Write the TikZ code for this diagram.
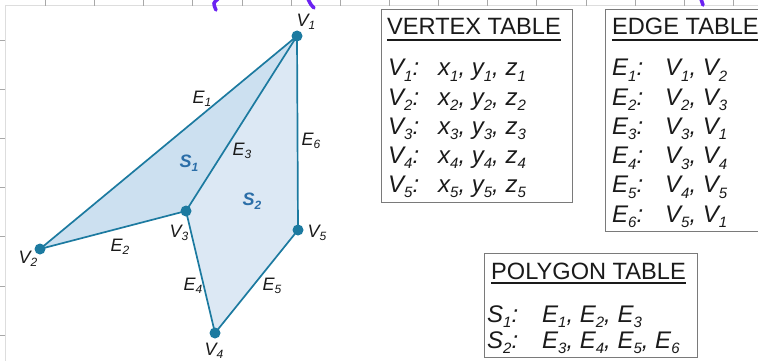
\documentclass[tikz,border=0pt]{standalone}
\usepackage{fontspec}
\setmainfont{Liberation Sans}
\definecolor{edgec}{HTML}{1C7AA0}
\definecolor{s1c}{HTML}{CCE0F0}
\definecolor{s2c}{HTML}{DCE8F4}
\definecolor{slabc}{HTML}{2B6EA8}
\definecolor{boxc}{HTML}{7A7A7A}
\definecolor{rulec}{HTML}{A8A8A8}
\definecolor{rulel}{HTML}{DDDDDD}
\definecolor{penc}{HTML}{6B22F2}
\definecolor{txt}{HTML}{1A1A1A}
\newcommand\tsub[1]{\raisebox{-5.5pt}{\fontsize{15}{15}\selectfont\itshape #1}}
\newcommand\dsub[1]{\raisebox{-3.5pt}{\fontsize{12}{12}\selectfont #1}}
\begin{document}
\begin{tikzpicture}[x=1pt,y=-1pt,
  vdot/.style={circle,fill=edgec,inner sep=0pt,minimum size=11pt},
  lab/.style={font=\fontsize{18}{18}\selectfont\itshape, text=txt, inner sep=0pt},
  slab/.style={font=\fontsize{18}{18}\selectfont\bfseries\itshape, text=slabc, inner sep=0pt},
  conn/.style={draw=edgec, line width=1.7pt, line join=round},
  tbox/.style={draw=boxc, line width=1pt},
  ttl/.style={font=\fontsize{23.6}{23.6}\selectfont, text=txt, anchor=base west, inner sep=0pt},
  uline/.style={draw=txt, line width=1.6pt},
  trow/.style={font=\fontsize{24}{24}\selectfont\itshape, text=txt, anchor=base west, inner sep=0pt},
  ruler/.style={draw=rulec, line width=0.8pt},
  pen/.style={draw=penc, line width=3.5pt, line cap=round}]
\clip (0,0) rectangle (758,361);
\fill[white] (0,0) rectangle (758,361);
% ruler
\draw[draw=rulel, line width=0.8pt] (5,5) -- (758,5);
\draw[draw=rulel, line width=0.8pt] (5,5) -- (5,361);
\foreach \x in {45,94,143,192,242,291,340,389,438,487,536,586,635,684,733}
  \draw[ruler] (\x,0) -- (\x,6);
\foreach \y in {40,89,138,187,236,286,335}
  \draw[ruler] (0,\y) -- (5,\y);
% pen marks
\draw[pen] (218,-1) .. controls (213,3) .. (216,10);
\draw[pen] (308,-1) .. controls (311,5) .. (314,8);
\draw[pen] (701,-1) -- (703,5);
% geometry
\coordinate (p1) at (297,36);
\coordinate (p2) at (40,249);
\coordinate (p3) at (186,211);
\coordinate (p4) at (215,333);
\coordinate (p5) at (298,230);
\fill[s1c] (p1) -- (p2) -- (p3) -- cycle;
\fill[s2c] (p1) -- (p3) -- (p4) -- (p5) -- cycle;
\draw[conn] (p1) -- (p2);
\draw[conn] (p2) -- (p3);
\draw[conn] (p3) -- (p1);
\draw[conn] (p3) -- (p4);
\draw[conn] (p4) -- (p5);
\draw[conn] (p5) -- (p1);
\foreach \i in {1,...,5} \node[vdot] (v\i) at (p\i) {};
% labels
\node[lab] (lv1) at (306,22) {V\dsub{1}};
\node[lab] (lv2) at (28,259) {V\dsub{2}};
\node[lab] (lv3) at (179,233) {V\dsub{3}};
\node[lab] (lv4) at (214,351) {V\dsub{4}};
\node[lab] (lv5) at (317,233) {V\dsub{5}};
\node[lab] (le1) at (202,99) {E\dsub{1}};
\node[lab] (le2) at (120,247) {E\dsub{2}};
\node[lab] (le3) at (242,151) {E\dsub{3}};
\node[lab] (le4) at (193,286) {E\dsub{4}};
\node[lab] (le5) at (272,286) {E\dsub{5}};
\node[lab] (le6) at (311,141) {E\dsub{6}};
\node[slab] (ls1) at (189,163) {S\dsub{1}};
\node[slab] (ls2) at (252,201) {S\dsub{2}};
% vertex table
\draw[tbox] (381,10) rectangle (572,202);
\node[ttl] (vt) at (387,35) {VERTEX TABLE};
\draw[uline] ([yshift=-5pt]vt.base west) -- ([yshift=-5pt]vt.base east);
\foreach \i in {1,...,5} {
  \node[trow] (vr\i) at (388,{76+29*(\i-1)}) {V\tsub{\i}:};
  \node[trow] (vv\i) at (438,{76+29*(\i-1)}) {x\tsub{\i}, y\tsub{\i}, z\tsub{\i}};
}
% edge table
\draw[tbox] (605,10) rectangle (780,231);
\node[ttl] (et) at (612,35) {EDGE TABLE};
\draw[uline] ([yshift=-5pt]et.base west) -- ([yshift=-5pt]et.base east);
\foreach \i/\a/\b in {1/1/2,2/2/3,3/3/1,4/3/4,5/4/5,6/5/1} {
  \node[trow] (er\i) at (612,{76+29.2*(\i-1)}) {E\tsub{\i}:};
  \node[trow] (ev\i) at (665,{76+29.2*(\i-1)}) {V\tsub{\a}, V\tsub{\b}};
}
% polygon table
\draw[tbox] (484,253) rectangle (697,357);
\node[ttl] (pt) at (491,279) {POLYGON TABLE};
\draw[uline] ([yshift=-4pt]pt.base west) -- ([yshift=-4pt]pt.base east);
\node[trow] (pr1) at (487,322) {S\tsub{1}:};
\node[trow] (pv1) at (542,322) {E\tsub{1}, E\tsub{2}, E\tsub{3}};
\node[trow] (pr2) at (487,348) {S\tsub{2}:};
\node[trow] (pv2) at (542,348) {E\tsub{3}, E\tsub{4}, E\tsub{5}, E\tsub{6}};
\end{tikzpicture}
\end{document}
